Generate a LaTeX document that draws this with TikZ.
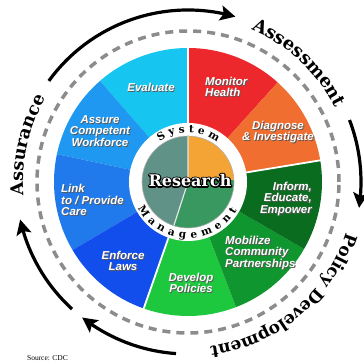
\documentclass[tikz,border=0pt]{standalone}
\usepackage{fontspec}
\setmainfont{Liberation Sans}
\newfontfamily\heavyserif{DejaVu Serif}
\newfontfamily\srcfont{Liberation Serif}
\usetikzlibrary{arrows.meta,bending,decorations.text}
\definecolor{cEval}{RGB}{22,198,240}
\definecolor{cAssure}{RGB}{30,152,240}
\definecolor{cLink}{RGB}{32,122,236}
\definecolor{cEnforce}{RGB}{18,78,236}
\definecolor{cDevelop}{RGB}{30,200,62}
\definecolor{cMobil}{RGB}{16,150,46}
\definecolor{cInform}{RGB}{10,108,30}
\definecolor{cDiag}{RGB}{240,110,48}
\definecolor{cMonitor}{RGB}{236,40,44}
\definecolor{pTeal}{RGB}{96,146,136}
\definecolor{pGreen}{RGB}{56,152,96}
\definecolor{pOrange}{RGB}{244,164,52}
\definecolor{dashgray}{RGB}{140,140,140}
\newcommand\shlabel[5]{%
  \node[lblsh,anchor=#3,align=#4,xshift=0.9pt,yshift=-0.9pt] (#1s) at (#2) {#5};
  \node[lbl,anchor=#3,align=#4] (#1) at (#2) {#5};
}
\tikzset{
  lbl/.style={inner sep=0pt,text=white,font=\fontsize{11.5}{11.5}\selectfont\bfseries\itshape},
  lblsh/.style={lbl,text=black!65},
  bigarc/.style={line width=3.2,-{Stealth[length=15pt,width=15pt,inset=3pt]}},
  rtext/.style={inner sep=0pt,font=\heavyserif\bfseries\fontsize{16}{16}\selectfont},
}
\begin{document}
\begin{tikzpicture}[x=1pt,y=1pt]
\useasboundingbox (-188,-181) rectangle (176,182);
\fill[white] (-188,-181) rectangle (176,182);
% outer sectors
\fill[cMonitor] (0,0) -- (48:134) arc[start angle=48,end angle=90,radius=134] -- cycle;
\fill[cEval] (0,0) -- (90:134) arc[start angle=90,end angle=131,radius=134] -- cycle;
\fill[cAssure] (0,0) -- (131:134) arc[start angle=131,end angle=168,radius=134] -- cycle;
\fill[cLink] (0,0) -- (168:134) arc[start angle=168,end angle=210.5,radius=134] -- cycle;
\fill[cEnforce] (0,0) -- (210.5:134) arc[start angle=210.5,end angle=250.7,radius=134] -- cycle;
\fill[cDevelop] (0,0) -- (250.7:134) arc[start angle=250.7,end angle=291,radius=134] -- cycle;
\fill[cMobil] (0,0) -- (291:134) arc[start angle=291,end angle=330,radius=134] -- cycle;
\fill[cInform] (0,0) -- (330:134) arc[start angle=330,end angle=369.3,radius=134] -- cycle;
\fill[cDiag] (0,0) -- (9.3:134) arc[start angle=9.3,end angle=48,radius=134] -- cycle;
\foreach \a in {90,250.7,9.3} \draw[white,line width=1.8] (\a:58) -- (\a:135);
% white ring
\fill[white] (0,0) circle[radius=59];
% inner pie
\fill[pTeal] (0,0) -- (90:46) arc[start angle=90,end angle=252,radius=46] -- cycle;
\fill[pGreen] (0,0) -- (252:46) arc[start angle=252,end angle=363,radius=46] -- cycle;
\fill[pOrange] (0,0) -- (3:46) arc[start angle=3,end angle=90,radius=46] -- cycle;
\draw[white!80!gray,line width=1.2] (90:46) -- (0,0) -- (252:46);
\draw[gray!60,line width=0.6] (0,0) circle[radius=46];
% Research: black stroked copy below, white filled copy on top
\node[rtext,text=black] (researchline) at (2,1.5)
  {\special{pdf:literal direct 2 Tr 2.6 w 1 j 0 0 0 RG}Research\special{pdf:literal direct 0 Tr}};
\node[rtext,text=white] (research) at (2,1.5) {Research};
% ring text
\path[decorate,decoration={text along path,text={|\heavyserif\bfseries\fontsize{10.5}{10.5}\selectfont|System},text align=fit to path}]
  (125:49.5) arc[start angle=125,end angle=54,radius=49.5];
\path[decorate,decoration={text along path,text={|\heavyserif\bfseries\fontsize{10.5}{10.5}\selectfont|Management},text align=fit to path}]
  (207.5:56.5) arc[start angle=207.5,end angle=330,radius=56.5];
% dashed circle
\draw[dashgray,line width=3.5,dash pattern=on 8 off 6] (0,0) circle[radius=151];
% arrows
\draw[bigarc] (144:172) arc[start angle=144,end angle=74,radius=172];
\draw[bigarc] (21:173) arc[start angle=21,end angle=-8.6,radius=173];
\draw[bigarc] (266:172) arc[start angle=266,end angle=232,radius=172];
\draw[bigarc] (227.6:172) arc[start angle=227.6,end angle=192.6,radius=172];
% outer labels
\path[decorate,decoration={text along path,text={|\heavyserif\bfseries\fontsize{18}{18}\selectfont|Assessment},text align=center}]
  (92:165) arc[start angle=92,end angle=2,radius=165];
\path[decorate,decoration={text along path,text={|\heavyserif\bfseries\fontsize{17.5}{17.5}\selectfont|Assurance},text align=center}]
  (212:165) arc[start angle=212,end angle=122,radius=165];
\path[decorate,decoration={text along path,text={|\heavyserif\bfseries\fontsize{17}{17}\selectfont|Policy Development},text align=center}]
  (0:166) arc[start angle=0,end angle=-100,radius=166];
% sector labels
\shlabel{evaluate}{-37,95}{center}{center}{Evaluate}
\shlabel{assure}{-88,51}{center}{center}{Assure\\Competent\\Workforce}
\shlabel{link}{-127,-18}{west}{left}{Link\\to / Provide\\Care}
\shlabel{enforce}{-65,-79}{center}{center}{Enforce\\Laws}
\shlabel{develop}{3,-101}{center}{center}{Develop\\Policies}
\shlabel{mobilize}{37,-71}{west}{left}{Mobilize\\Community\\Partnerships}
\shlabel{inform}{124,-17}{east}{right}{Inform,\\Educate,\\Empower}
\shlabel{monitor}{17,95}{west}{left}{Monitor\\Health}
\shlabel{diagnose}{90,50}{center}{center}{Diagnose\\\& Investigate}
\node[inner sep=0pt,font=\srcfont\fontsize{7.5}{7.5}\selectfont] (source) at (-140.5,-176.5) {Source: CDC};
\end{tikzpicture}
\end{document}
